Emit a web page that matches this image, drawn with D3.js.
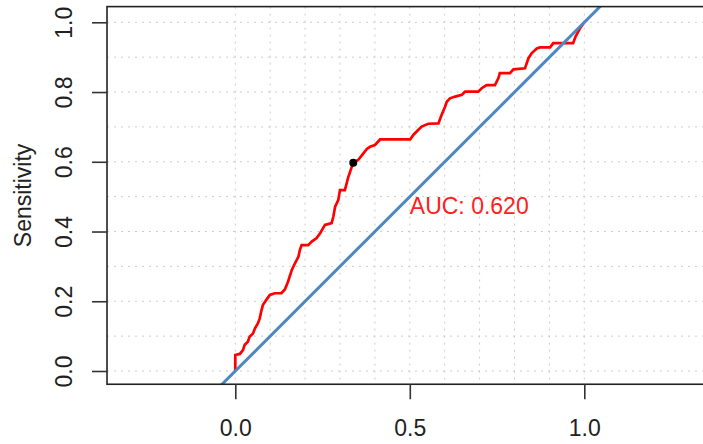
<!DOCTYPE html>
<html>
<head>
<meta charset="utf-8">
<script src="https://cdn.jsdelivr.net/npm/d3@7"></script>
<style>
  html, body { margin: 0; padding: 0; background: #ffffff; }
  svg { display: block; }
  text { font-family: "Liberation Sans", Arial, Helvetica, sans-serif; }
</style>
</head>
<body>
<svg id="chart" width="703" height="444"></svg>
<script>
// ROC curve: false positive rate (x) against sensitivity (y)
const fpr = [0, 0, 0.013, 0.022, 0.027, 0.036, 0.041, 0.051, 0.056, 0.065, 0.070, 0.074, 0.079, 0.089, 0.099,
  0.113, 0.132, 0.142, 0.151, 0.162, 0.171, 0.181, 0.185, 0.190, 0.209, 0.219, 0.233, 0.243, 0.257, 0.276,
  0.281, 0.286, 0.295, 0.300, 0.314, 0.324, 0.334, 0.338, 0.352, 0.367, 0.377, 0.386, 0.400, 0.415, 0.501,
  0.510, 0.524, 0.534, 0.553, 0.582, 0.591, 0.601, 0.606, 0.615, 0.630, 0.649, 0.658, 0.696, 0.706, 0.720,
  0.744, 0.754, 0.758, 0.787, 0.797, 0.830, 0.840, 0.849, 0.864, 0.873, 0.902, 0.911, 0.968, 0.975, 0.988, 1];
const sensitivity = [0, 0.046, 0.049, 0.060, 0.075, 0.084, 0.098, 0.108, 0.122, 0.137, 0.151, 0.170, 0.189, 0.204, 0.218,
  0.223, 0.223, 0.234, 0.256, 0.290, 0.309, 0.328, 0.347, 0.361, 0.361, 0.371, 0.381, 0.395, 0.419, 0.424,
  0.443, 0.471, 0.490, 0.519, 0.519, 0.557, 0.586, 0.597, 0.605, 0.624, 0.637, 0.643, 0.648, 0.664, 0.664,
  0.677, 0.691, 0.701, 0.709, 0.710, 0.734, 0.758, 0.772, 0.782, 0.787, 0.792, 0.801, 0.801, 0.811, 0.820,
  0.820, 0.840, 0.854, 0.854, 0.865, 0.868, 0.897, 0.911, 0.925, 0.928, 0.928, 0.940, 0.940, 0.959, 0.983, 1];

// Best threshold point
const thresholdX = [0.338];
const thresholdY = [0.597];

const auc = 0.620;

const xTicks = [0, 0.5, 1];
const yTicks = [0, 0.2, 0.4, 0.6, 0.8, 1];
const gridSteps = [0, 0.1, 0.2, 0.3, 0.4, 0.5, 0.6, 0.7, 0.8, 0.9, 1];

const svg = d3.select("#chart");

const x = d3.scaleLinear().domain([0, 1]).range([235.3, 584.3]);
const y = d3.scaleLinear().domain([0, 1]).range([371, 22.3]);

// plotting region (extends past the unit square)
const box = { x0: x(-0.3676), x1: x(1.3676), y0: y(1.045), y1: y(-0.038) };

svg.append("clipPath").attr("id", "plotclip")
  .append("rect")
  .attr("x", box.x0).attr("y", box.y0)
  .attr("width", box.x1 - box.x0).attr("height", box.y1 - box.y0);

// dotted grid
const grid = svg.append("g").attr("stroke", "#cccccc").attr("stroke-width", 1)
  .attr("stroke-dasharray", "2,5");
grid.selectAll("line.v").data(gridSteps).join("line").attr("class", "v")
  .attr("x1", d => x(d)).attr("x2", d => x(d))
  .attr("y1", box.y0).attr("y2", box.y1);
grid.selectAll("line.h").data(gridSteps).join("line").attr("class", "h")
  .attr("x1", box.x0).attr("x2", box.x1)
  .attr("y1", d => y(d)).attr("y2", d => y(d));

const plot = svg.append("g").attr("clip-path", "url(#plotclip)");

// ROC curve
const pts = fpr.map((v, i) => [v, sensitivity[i]]);
plot.append("path")
  .datum(pts)
  .attr("fill", "none")
  .attr("stroke", "#ff0000")
  .attr("stroke-width", 2.7)
  .attr("stroke-linejoin", "miter")
  .attr("d", d3.line().x(d => x(d[0])).y(d => y(d[1])));

// identity line
plot.append("line")
  .attr("x1", x(-0.5)).attr("y1", y(-0.5))
  .attr("x2", x(1.5)).attr("y2", y(1.5))
  .attr("stroke", "#4f87c2")
  .attr("stroke-width", 3);

// threshold point
plot.selectAll("circle.thr").data(thresholdX).join("circle").attr("class", "thr")
  .attr("cx", d => x(d)).attr("cy", (d, i) => y(thresholdY[i]))
  .attr("r", 4).attr("fill", "#000");

// AUC label
svg.append("text")
  .attr("x", x(0.5)).attr("y", y(0.5))
  .attr("dy", "0.75em")
  .attr("fill", "#ff2020")
  .attr("font-size", 23)
  .text(`AUC: ${auc.toFixed(3)}`);

// box
svg.append("rect")
  .attr("x", box.x0).attr("y", box.y0)
  .attr("width", box.x1 - box.x0).attr("height", box.y1 - box.y0)
  .attr("fill", "none").attr("stroke", "#222").attr("stroke-width", 1.6);

// x axis
const xAxis = svg.append("g")
  .attr("transform", `translate(0,${box.y1})`)
  .call(d3.axisBottom(x).tickValues(xTicks).tickFormat(d3.format(".1f")).tickSize(15).tickPadding(20));
xAxis.select(".domain").remove();
xAxis.selectAll(".tick line").attr("stroke", "#333").attr("stroke-width", 1.6);
xAxis.selectAll(".tick text").attr("font-size", 23).attr("fill", "#222")
  .attr("font-family", "Liberation Sans, Arial, sans-serif");

// y axis
const yAxis = svg.append("g")
  .attr("transform", `translate(${box.x0},0)`)
  .call(d3.axisLeft(y).tickValues(yTicks).tickFormat(d3.format(".1f")).tickSize(15));
yAxis.select(".domain").remove();
yAxis.selectAll(".tick line").attr("stroke", "#333").attr("stroke-width", 1.6);
yAxis.selectAll(".tick text")
  .attr("x", null).attr("dy", null)
  .attr("transform", "translate(-35,0) rotate(-90)")
  .attr("text-anchor", "middle")
  .attr("font-size", 23).attr("fill", "#222")
  .attr("font-family", "Liberation Sans, Arial, sans-serif");

// y axis title
svg.append("text")
  .attr("transform", `translate(31,${(box.y0 + box.y1) / 2}) rotate(-90)`)
  .attr("text-anchor", "middle")
  .attr("font-size", 23)
  .attr("fill", "#222")
  .text("Sensitivity");
</script>
</body>
</html>
